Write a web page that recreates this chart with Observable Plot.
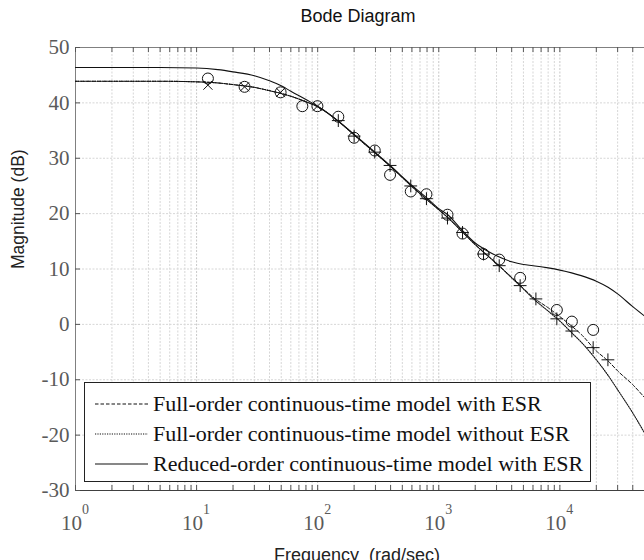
<!DOCTYPE html>
<html>
<head>
<meta charset="utf-8">
<script src="https://cdn.jsdelivr.net/npm/d3@7"></script>
<script src="https://cdn.jsdelivr.net/npm/@observablehq/plot@0.6"></script>
<style>
  body { margin: 0; background: #fff; }
  #chart { position: relative; width: 644px; height: 560px; overflow: hidden; }
  #legend { position: absolute; left: 84px; top: 382px; }
</style>
</head>
<body>
<div id="chart"></div>
<script>
// Frequency grid (rad/sec) at which the model magnitudes are listed
const modelFreq = [1, 2, 5, 10, 15, 20, 30, 40, 50, 60, 80, 100, 150, 200, 300, 400, 600, 800,
  1000, 1200, 1500, 2000, 2500, 3000, 4000, 5000, 6000, 8000, 10000, 12500, 15000, 20000,
  25000, 30000, 40000, 50000];

// Magnitude (dB): full-order continuous-time model with ESR
const fullWithEsr = [43.9, 43.9, 43.9, 43.8, 43.6, 43.3, 42.8, 42.2, 41.7, 41.2, 40.2, 39.3,
  36.6, 34.2, 30.9, 28.5, 24.9, 22.5, 20.7, 19.2, 17.1, 14.4, 12.5, 11.0, 8.5, 6.5, 4.9, 3.0,
  1.4, -0.3, -1.8, -4.8, -6.6, -8.4, -10.9, -13.2];

// Magnitude (dB): full-order continuous-time model without ESR
const fullNoEsr = [43.9, 43.9, 43.9, 43.8, 43.6, 43.3, 42.8, 42.2, 41.7, 41.2, 40.2, 39.3,
  36.6, 34.2, 30.9, 28.5, 24.9, 22.5, 20.7, 19.2, 17.1, 14.4, 12.5, 11.0, 8.4, 6.4, 4.7, 2.4,
  0.6, -1.5, -3.2, -6.4, -9.2, -11.8, -16.0, -19.6];

// Magnitude (dB): reduced-order continuous-time model with ESR
const reducedWithEsr = [46.4, 46.4, 46.4, 46.3, 46.0, 45.6, 44.9, 44.0, 43.1, 42.1, 40.6, 39.4,
  36.6, 34.3, 31.0, 28.6, 25.1, 22.8, 20.9, 19.7, 17.4, 14.7, 13.3, 12.4, 11.3, 10.8, 10.6,
  10.2, 9.8, 9.3, 8.8, 7.8, 6.7, 5.5, 3.2, 1.5];

// Measured points drawn as circles
const circleFreq = [12.4, 24.9, 49.4, 74.7, 99.5, 148, 200, 296, 396, 587, 791, 1180, 1571,
  2342, 3157, 4700, 9440, 12560, 18840];
const circleMag = [44.4, 42.9, 41.9, 39.4, 39.4, 37.5, 33.7, 31.4, 27.0, 24.0, 23.5, 19.8, 16.4,
  12.7, 11.7, 8.4, 2.6, 0.5, -1.0];

// Simulated points drawn as crosses
const crossFreq = [12.4, 24.9, 49.4, 99.5, 148, 200, 296, 396, 587, 791, 1180, 1571, 2342,
  3157, 4700, 6340, 9440, 12560, 18840, 24940];
const crossMag = [43.2, 42.9, 41.9, 39.4, 36.8, 34.0, 31.1, 28.7, 25.0, 22.7, 19.2, 16.6, 12.7,
  10.6, 7.0, 4.6, 1.0, -1.2, -4.2, -6.4];

// Axis ticks
const yTicks = [-30, -20, -10, 0, 10, 20, 30, 40, 50];
const decadeExps = [0, 1, 2, 3, 4];
const minorMult = [2, 3, 4, 5, 6, 7, 8, 9];

// Legend entries
const legendLabels = [
  "Full-order continuous-time model with ESR",
  "Full-order continuous-time model without ESR",
  "Reduced-order continuous-time model with ESR"
];

const W = 644, H = 560, mL = 75, mT = 47, mB = 70, mR = 0;
const innerW = W - mL - mR, innerH = H - mT - mB;
const xDomain = [1, 50000];

const decades = decadeExps.map(e => 10 ** e);
const minors = decadeExps.flatMap(e => minorMult.map(m => m * 10 ** e)).filter(v => v <= xDomain[1]);
const allXTicks = [...decades, ...minors];

const toRows = (fs, ms) => fs.map((f, i) => ({f, m: ms[i]}));
const serif = "'Liberation Serif', 'Times New Roman', serif";
const sans = "'Liberation Sans', Arial, Helvetica, sans-serif";
const gridColor = "#d6d6d6";
const tickColor = "#555";
const labelColor = "#5a5a5a";

const chart = Plot.plot({
  width: W,
  height: H,
  marginLeft: mL,
  marginRight: mR,
  marginTop: mT,
  marginBottom: mB,
  style: {background: "#fff", overflow: "visible"},
  x: {type: "log", domain: xDomain, axis: null},
  y: {domain: [-30, 50], axis: null},
  marks: [
    // grid
    Plot.ruleX(minors, {stroke: gridColor, strokeWidth: 1, strokeDasharray: "2,1.5"}),
    Plot.ruleX(decades, {stroke: "#c8c8c8", strokeWidth: 1, strokeDasharray: "2,1.5"}),
    Plot.ruleY(yTicks, {stroke: gridColor, strokeWidth: 1, strokeDasharray: "2,1.5"}),
    // box edges
    Plot.ruleY([50], {stroke: "#808080"}),
    Plot.ruleY([-30], {stroke: "#404040"}),
    Plot.ruleX([1], {stroke: "#808080"}),
    // inward tick marks
    Plot.ruleX(allXTicks, {insetTop: innerH - 5, stroke: tickColor}),
    Plot.ruleX(allXTicks, {insetBottom: innerH - 5, stroke: tickColor}),
    Plot.ruleY(yTicks, {insetRight: innerW - 5, stroke: tickColor}),
    // model responses
    Plot.line(toRows(modelFreq, fullWithEsr), {x: "f", y: "m", stroke: "#111", strokeWidth: 1,
      strokeDasharray: "3.5,2", curve: "monotone-x"}),
    Plot.line(toRows(modelFreq, fullNoEsr), {x: "f", y: "m", stroke: "#111", strokeWidth: 1.1,
      strokeDasharray: "1.2,1.2", curve: "monotone-x"}),
    Plot.line(toRows(modelFreq, reducedWithEsr), {x: "f", y: "m", stroke: "#111", strokeWidth: 1.1,
      curve: "monotone-x"}),
    // measured / simulated points
    Plot.dot(toRows(circleFreq, circleMag), {x: "f", y: "m", r: 5.5, stroke: "#111", strokeWidth: 1,
      fill: "none"}),
    Plot.dot(toRows(crossFreq, crossMag).filter(d => d.f <= 100), {x: "f", y: "m", symbol: "times",
      r: 4.2, stroke: "#111", strokeWidth: 1}),
    Plot.dot(toRows(crossFreq, crossMag).filter(d => d.f > 100), {x: "f", y: "m", symbol: "plus",
      r: 4.2, stroke: "#111", strokeWidth: 1}),
    // y tick labels
    Plot.text(yTicks, {y: d => d, text: d => String(d), frameAnchor: "left", textAnchor: "end",
      dx: -6, fontFamily: serif, fontSize: 21, fill: labelColor}),
    // x tick labels: base and exponent
    Plot.text(decades, {x: d => d, text: () => "10", frameAnchor: "bottom", lineAnchor: "bottom",
      dy: 39, dx: -4, fontFamily: serif, fontSize: 21, fill: labelColor}),
    Plot.text(decadeExps, {x: e => 10 ** e, text: e => String(e), frameAnchor: "bottom",
      lineAnchor: "bottom", textAnchor: "start", dy: 23.5, dx: 6.5, fontFamily: serif, fontSize: 14,
      fill: labelColor}),
    // titles
    Plot.text(["Bode Diagram"], {frameAnchor: "top", lineAnchor: "bottom", dy: -26, dx: -2,
      fontFamily: sans, fontSize: 18, fill: "#111"}),
    Plot.text(["Magnitude (dB)"], {frameAnchor: "left", rotate: -90, dx: -57, fontFamily: sans,
      fontSize: 17.5, fill: "#222"}),
    Plot.text(["Frequency\u00a0 (rad/sec)"], {frameAnchor: "bottom", lineAnchor: "top", dy: 58,
      dx: -3, fontFamily: sans, fontSize: 18, fill: "#222"})
  ]
});

const host = document.getElementById("chart");
host.appendChild(chart);

// Legend box drawn over the lower-left of the axes
const legW = 507, legH = 100, rowH = 30;
const dashes = ["3.5,2", "1.2,1.2", null];
const ns = "http://www.w3.org/2000/svg";
const leg = document.createElementNS(ns, "svg");
leg.setAttribute("id", "legend");
leg.setAttribute("width", legW);
leg.setAttribute("height", legH);
const box = document.createElementNS(ns, "rect");
box.setAttribute("x", 0.5); box.setAttribute("y", 0.5);
box.setAttribute("width", legW - 1); box.setAttribute("height", legH - 1);
box.setAttribute("fill", "#fff"); box.setAttribute("stroke", "#222");
leg.appendChild(box);
legendLabels.forEach((label, i) => {
  const cy = 22 + i * rowH;
  const ln = document.createElementNS(ns, "line");
  ln.setAttribute("x1", 11); ln.setAttribute("x2", 64);
  ln.setAttribute("y1", cy); ln.setAttribute("y2", cy);
  ln.setAttribute("stroke", "#111"); ln.setAttribute("stroke-width", 1.1);
  if (dashes[i]) ln.setAttribute("stroke-dasharray", dashes[i]);
  leg.appendChild(ln);
  const t = document.createElementNS(ns, "text");
  t.setAttribute("x", 69); t.setAttribute("y", cy + 7);
  t.setAttribute("font-family", serif); t.setAttribute("font-size", 22);
  t.setAttribute("fill", "#111");
  t.textContent = label;
  leg.appendChild(t);
});
host.appendChild(leg);
</script>
</body>
</html>
